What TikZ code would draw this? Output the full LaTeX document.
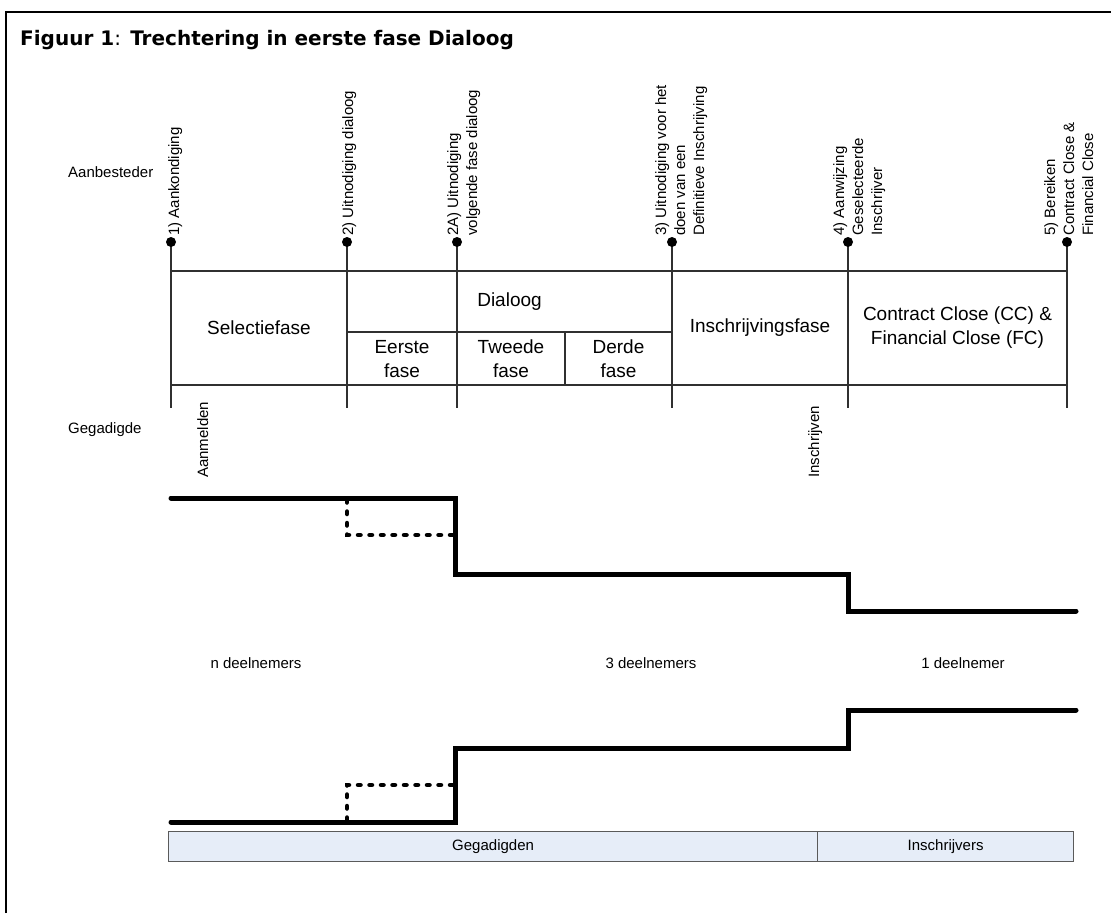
\documentclass[tikz,border=0pt]{standalone}
\usepackage{fontspec}
\setmainfont{Liberation Sans}
\newfontfamily\titlefont{DejaVu Sans}
\definecolor{barfill}{HTML}{E6EDF8}
\definecolor{bargray}{HTML}{5A5A5A}
\definecolor{linegray}{HTML}{303030}
\begin{document}
\begin{tikzpicture}[x=1pt,y=-1pt,
  lbl/.style={font=\fontsize{15}{19}\selectfont, inner sep=0pt},
  rlbl/.style={lbl, rotate=90, anchor=north west, align=left},
  cell/.style={font=\fontsize{19}{24}\selectfont, align=center, inner sep=0pt},
  thin/.style={line width=1.3pt, draw=linegray},
  stepline/.style={line width=5pt, line cap=round, line join=miter},
  dashline/.style={line width=4.5pt, line cap=round, dash pattern=on 2.5pt off 9pt},
  evdot/.style={circle, fill=black, inner sep=0pt, minimum size=10pt},
  barbox/.style={draw=bargray, fill=barfill, line width=1.2pt, anchor=north west,
    minimum height=30pt, inner sep=0pt, font=\fontsize{15}{18}\selectfont}
]
\useasboundingbox (0,0) rectangle (1111,913);
% frame
\draw[line width=2.6pt] (6,913) -- (6,12) -- (1111,12);
% title
\node[anchor=base west, inner sep=0pt, font=\titlefont\fontsize{20}{24}\selectfont] (title) at (20,45)
  {\bfseries Figuur 1\mdseries:\bfseries{} Trechtering in eerste fase Dialoog};

% side labels
\node[lbl, anchor=west] (aanb) at (68,172) {Aanbesteder};
\node[lbl, anchor=west] (gega) at (68,430) {Gegadigde};

% event line ends
\coordinate (b1) at (171,408);
\coordinate (b2) at (347,408);
\coordinate (b3) at (457,408);
\coordinate (b4) at (672,408);
\coordinate (b5) at (848,408);
\coordinate (b6) at (1067,408);
\coordinate (d1) at (171,242);
\coordinate (d2) at (347,242);
\coordinate (d3) at (457,242);
\coordinate (d4) at (672,242);
\coordinate (d5) at (848,242);
\coordinate (d6) at (1067,242);
\foreach \i in {1,...,6} {\draw[thin] (d\i) -- (b\i);}

% table lines
\coordinate (tl) at (171,271);
\coordinate (tr) at (1067,271);
\coordinate (bl) at (171,385);
\coordinate (br) at (1067,385);
\coordinate (ml) at (347,332);
\coordinate (mr) at (672,332);
\coordinate (dt) at (565,332);
\coordinate (db) at (565,385);
\draw[thin] (tl) -- (tr);
\draw[thin] (bl) -- (br);
\draw[thin] (ml) -- (mr);
\draw[thin] (dt) -- (db);

% dots
\foreach \i in {1,...,6} {\node[evdot] (e\i) at (d\i) {};}

% rotated event labels
\node[rlbl] (l1) at (168,236) {1) Aankondiging};
\node[rlbl] (l2) at (342,236) {2) Uitnodiging dialoog};
\node[rlbl] (l3) at (447,236) {2A) Uitnodiging\\volgende fase dialoog};
\node[rlbl] (l4) at (655,236) {3) Uitnodiging voor het\\doen van een\\Definitieve Inschrijving};
\node[rlbl] (l5) at (833,236) {4) Aanwijzing\\Geselecteerde\\Inschrijver};
\node[rlbl] (l6) at (1044,236) {5) Bereiken\\Contract Close \&\\Financial Close};

\node[rlbl] (aanm) at (197,478) {Aanmelden};
\node[rlbl] (insc) at (808,478) {Inschrijven};

% table cells
\node[cell] (sel) at (259,328) {Selectiefase};
\node[cell] (dia) at (509.5,301.5) {Dialoog};
\node[cell] (f1) at (402,359) {Eerste\\fase};
\node[cell] (f2) at (511,359) {Tweede\\fase};
\node[cell] (f3) at (618.5,359) {Derde\\fase};
\node[cell] (ins) at (760,328) {Inschrijvingsfase};
\node[cell] (ccfc) at (957.5,328) {Contract Close (CC) \&\\Financial Close (FC)};

% upper step line
\draw[stepline] (171,498) -- (455,498) -- (455,574) -- (848,574) -- (848,611) -- (1076,611);
\draw[dashline] (347,500) -- (347,535) -- (455,535);

% counts
\node[lbl] (n1) at (256,663) {n deelnemers};
\node[lbl] (n3) at (651,663) {3 deelnemers};
\node[lbl] (n5) at (963,663) {1 deelnemer};

% lower step line
\draw[stepline] (171,822) -- (455,822) -- (455,748) -- (848,748) -- (848,710) -- (1076,710);
\draw[dashline] (347,820) -- (347,785) -- (455,785);

% bottom bar
\node[barbox, minimum width=649pt] (gg) at (168,831) {Gegadigden};
\node[barbox, minimum width=256pt] (ir) at (817,831) {Inschrijvers};
\end{tikzpicture}
\end{document}
